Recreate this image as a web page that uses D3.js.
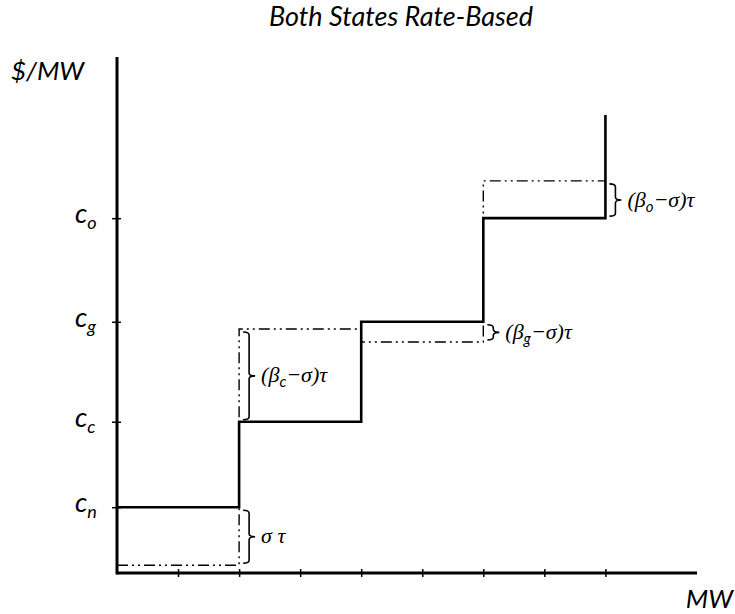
<!DOCTYPE html>
<html>
<head>
<meta charset="utf-8">
<script src="https://cdn.jsdelivr.net/npm/d3@7"></script>
<style>
  body { margin: 0; background: #ffffff; }
  svg { display: block; }
</style>
</head>
<body>
<div id="chart"></div>
<script>
const width = 735;
const height = 614;

const sansFont = "Lato, 'Open Sans', sans-serif";
const serifFont = "'Liberation Serif', 'DejaVu Serif', serif";

// tick marks along the MW axis (units)
const xTicks = [1, 2, 3, 4, 5, 6, 7, 8];

// price levels on the $/MW axis
const yTickKeys = ["n", "c", "g", "o"];
const yTickValues = [12.7, 29.2, 48.5, 68.5];

// supply curve before the policy (solid)
const supplyX = [0, 2, 4, 6, 8, 8];
const supplyY = [12.7, 29.2, 48.5, 68.5, 68.5, 88.4];

// supply curve with both states rate-based (dash-dot)
const taxedX = [0, 2, 4, 6, 8];
const taxedY = [1.5, 47.1, 44.6, 75.7, 75.7];

// braces marking the shift of each step
const braceX = [2, 2, 6, 8];
const braceFrom = [12.7, 29.2, 48.5, 68.5];
const braceTo = [1.5, 47.1, 44.6, 75.7];
const braceSub = ["", "c", "g", "o"];

const margin = { left: 117, right: 38, top: 57, bottom: 41 };

const x = d3.scaleLinear().domain([0, 9.5]).range([margin.left, 697]);
const y = d3.scaleLinear().domain([0, 100]).range([573, 55]);

const svg = d3.select("#chart")
  .append("svg")
  .attr("width", width)
  .attr("height", height);

// title
svg.append("text")
  .attr("x", 401)
  .attr("y", 26)
  .attr("text-anchor", "middle")
  .attr("font-family", sansFont)
  .attr("font-style", "italic")
  .attr("font-size", 27)
  .text("Both States Rate-Based");

// axis titles
svg.append("text")
  .attr("x", 11)
  .attr("y", 80)
  .attr("font-family", sansFont)
  .attr("font-style", "italic")
  .attr("font-size", 26)
  .text("$/MW");

svg.append("text")
  .attr("x", 733)
  .attr("y", 608)
  .attr("text-anchor", "end")
  .attr("font-family", sansFont)
  .attr("font-style", "italic")
  .attr("font-size", 26)
  .text("MW");

// axes
const xAxis = d3.axisBottom(x)
  .tickValues(xTicks)
  .tickSize(4)
  .tickFormat("");

const xAxisG = svg.append("g")
  .attr("transform", `translate(0, ${y(0)})`)
  .call(xAxis);
xAxisG.select(".domain").remove();
xAxisG.selectAll(".tick line")
  .attr("y1", -4)
  .attr("stroke", "#000")
  .attr("stroke-width", 1.5);

const yAxis = d3.axisLeft(y)
  .tickValues(yTickValues)
  .tickSize(4)
  .tickFormat("");

const yAxisG = svg.append("g")
  .attr("transform", `translate(${x(0)}, 0)`)
  .call(yAxis);
yAxisG.select(".domain").remove();
yAxisG.selectAll(".tick line")
  .attr("x2", 4)
  .attr("x1", -5)
  .attr("stroke", "#000")
  .attr("stroke-width", 1.5);

svg.append("line")
  .attr("x1", x(0)).attr("x2", x(9.5))
  .attr("y1", y(0)).attr("y2", y(0))
  .attr("stroke", "#000")
  .attr("stroke-width", 3);

svg.append("line")
  .attr("x1", x(0)).attr("x2", x(0))
  .attr("y1", y(0) + 1.5).attr("y2", margin.top)
  .attr("stroke", "#000")
  .attr("stroke-width", 3);

// price level labels c_n, c_c, ...
const yLabels = svg.append("g")
  .selectAll("text")
  .data(yTickKeys)
  .join("text")
  .attr("x", 75)
  .attr("y", (d, i) => y(yTickValues[i]) + 5)
  .attr("font-family", sansFont)
  .attr("font-style", "italic")
  .attr("font-size", 27);

yLabels.append("tspan").text("c");
yLabels.append("tspan")
  .attr("font-size", 18)
  .attr("dy", 6)
  .text((d) => d);

// step curves
const stepLine = d3.line()
  .x((d) => x(d[0]))
  .y((d) => y(d[1]))
  .curve(d3.curveStepAfter);

svg.append("path")
  .datum(taxedX.map((v, i) => [v, taxedY[i]]))
  .attr("d", stepLine)
  .attr("fill", "none")
  .attr("stroke", "#000")
  .attr("stroke-width", 1.4)
  .attr("stroke-dasharray", "11 4 2 4 2 4");

svg.append("path")
  .datum(supplyX.map((v, i) => [v, supplyY[i]]))
  .attr("d", stepLine)
  .attr("fill", "none")
  .attr("stroke", "#000")
  .attr("stroke-width", 2.6);

// braces
function bracePath(bx, ya, yb) {
  const top = Math.min(ya, yb) + 3;
  const bot = Math.max(ya, yb) - 2;
  const mid = (top + bot) / 2;
  const h = 6;
  return `M${bx - h},${top} Q${bx},${top} ${bx},${top + 3}` +
    ` L${bx},${mid - 3} Q${bx},${mid} ${bx + h},${mid}` +
    ` Q${bx},${mid} ${bx},${mid + 3}` +
    ` L${bx},${bot - 3} Q${bx},${bot} ${bx - h},${bot}`;
}

const braces = svg.append("g")
  .selectAll("g")
  .data(braceX)
  .join("g");

braces.append("path")
  .attr("d", (d, i) => bracePath(x(d) + 10, y(braceFrom[i]), y(braceTo[i])))
  .attr("fill", "none")
  .attr("stroke", "#000")
  .attr("stroke-width", 1.6);

const braceLabels = braces.append("text")
  .attr("x", (d) => x(d) + 22)
  .attr("y", (d, i) => (y(braceFrom[i]) + y(braceTo[i])) / 2 + 7)
  .attr("font-family", serifFont)
  .attr("font-style", "italic")
  .attr("font-size", 22);

braceLabels.each(function (d, i) {
  const t = d3.select(this);
  if (braceSub[i] === "") {
    t.append("tspan").text("σ τ");
  } else {
    t.append("tspan").text("(β");
    t.append("tspan")
      .attr("font-family", sansFont)
      .attr("font-size", 15)
      .attr("dy", 5)
      .text(braceSub[i]);
    t.append("tspan").attr("dy", -5).text("−σ)τ");
  }
});
</script>
</body>
</html>
